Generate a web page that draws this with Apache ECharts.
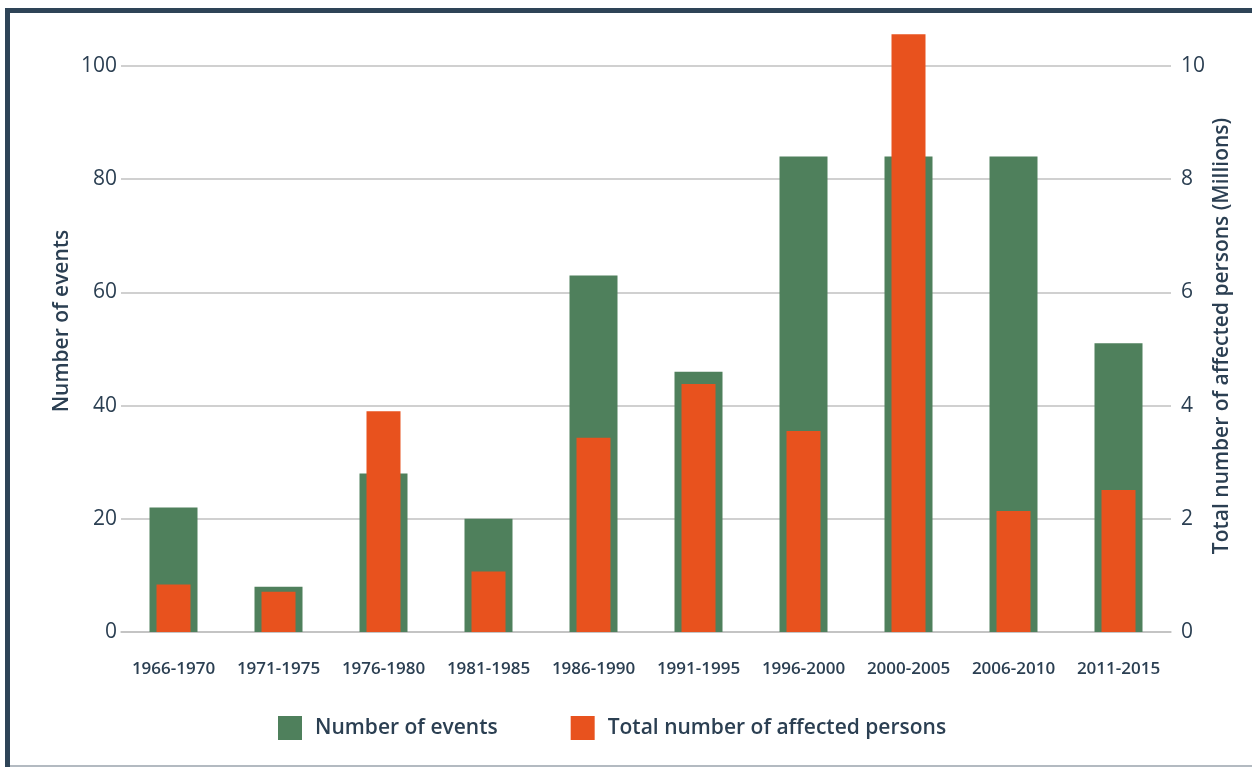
<!DOCTYPE html>
<html>
<head>
<meta charset="utf-8">
<script src="https://cdn.jsdelivr.net/npm/echarts@6/dist/echarts.min.js"></script>
<style>
  html, body { margin: 0; padding: 0; background: #ffffff; }
  #chart { width: 1252px; height: 767px; }
</style>
</head>
<body>
<div id="chart"></div>
<script>
// Five-year periods on the category axis
const periods = ['1966-1970', '1971-1975', '1976-1980', '1981-1985', '1986-1990',
                 '1991-1995', '1996-2000', '2000-2005', '2006-2010', '2011-2015'];
// Number of recorded events per period (left axis)
const eventCounts = [22, 8, 28, 20, 63, 46, 84, 84, 84, 51];
// Total number of affected persons per period, in millions (right axis)
const affectedMillions = [0.84, 0.71, 3.9, 1.07, 3.43, 4.38, 3.55, 10.56, 2.14, 2.51];
// Tick labels of the two value axes
const leftTicks = [0, 20, 40, 60, 80, 100];
const rightTicks = [0, 2, 4, 6, 8, 10];

const INK = '#2b3f52';
const GREEN = '#4f805c';
const ORANGE = '#e8521e';
const FONT = '"Open Sans", "Noto Sans", sans-serif';

const chart = echarts.init(document.getElementById('chart'), null, { renderer: 'canvas' });

const option = {
  backgroundColor: '#ffffff',
  animation: false,
  textStyle: { fontFamily: FONT, color: INK },
  grid: { left: 121, right: 81, top: 66, bottom: 135, containLabel: false },
  legend: {
    left: 278,
    top: 716,
    padding: 0,
    itemWidth: 24,
    itemHeight: 24,
    itemGap: 73,
    icon: 'rect',
    textStyle: { fontFamily: FONT, fontSize: 21, fontWeight: 600, color: INK, padding: [0, 0, 0, 8] },
    data: ['Number of events', 'Total number of affected persons']
  },
  xAxis: [
    {
      type: 'category',
      data: periods,
      axisLine: { show: true, lineStyle: { color: '#c0c0c0', width: 1.5 } },
      axisTick: { show: false },
      axisLabel: { fontFamily: FONT, fontSize: 17, fontWeight: 600, color: INK, margin: 29, interval: 0 }
    },
    {
      type: 'category',
      data: periods,
      show: false,
      position: 'bottom'
    }
  ],
  yAxis: [
    {
      type: 'value',
      min: 0,
      max: leftTicks[leftTicks.length - 1],
      interval: leftTicks[1] - leftTicks[0],
      axisLine: { show: false },
      axisTick: { show: false },
      axisLabel: { fontFamily: FONT, fontSize: 21, color: INK, margin: 4 },
      splitLine: { lineStyle: { color: '#c0c0c0', width: 1.5 } }
    },
    {
      type: 'value',
      min: 0,
      max: rightTicks[rightTicks.length - 1],
      interval: rightTicks[1] - rightTicks[0],
      position: 'right',
      axisLine: { show: false },
      axisTick: { show: false },
      axisLabel: { fontFamily: FONT, fontSize: 21, color: INK, margin: 10 },
      splitLine: { show: false }
    }
  ],
  series: [
    {
      name: 'Number of events',
      type: 'bar',
      xAxisIndex: 0,
      yAxisIndex: 0,
      barWidth: 48,
      itemStyle: { color: GREEN },
      data: eventCounts
    },
    {
      name: 'Total number of affected persons',
      type: 'bar',
      xAxisIndex: 1,
      yAxisIndex: 1,
      barWidth: 34,
      clip: false,
      itemStyle: { color: ORANGE },
      data: affectedMillions
    }
  ],
  graphic: [
    // frame: dark rule along the top and left edge, thin grey rule at the bottom
    { type: 'rect', left: 5, top: 8, shape: { width: 1247, height: 5 }, style: { fill: '#2e4457' }, z: 100 },
    { type: 'rect', left: 5, top: 8, shape: { width: 5, height: 759 }, style: { fill: '#2e4457' }, z: 100 },
    { type: 'rect', left: 10, top: 765, shape: { width: 1242, height: 2 }, style: { fill: '#b3bac1' }, z: 100 },
    // axis titles
    {
      type: 'text', x: 62, y: 321, rotation: Math.PI / 2,
      style: { text: 'Number of events', font: '600 21px ' + FONT, fill: INK, align: 'center', verticalAlign: 'middle' }
    },
    {
      type: 'text', x: 1222, y: 336, rotation: Math.PI / 2,
      style: { text: 'Total number of affected persons (Millions)', font: '600 21px ' + FONT, fill: INK, align: 'center', verticalAlign: 'middle' }
    }
  ]
};

chart.setOption(option);
</script>
</body>
</html>
